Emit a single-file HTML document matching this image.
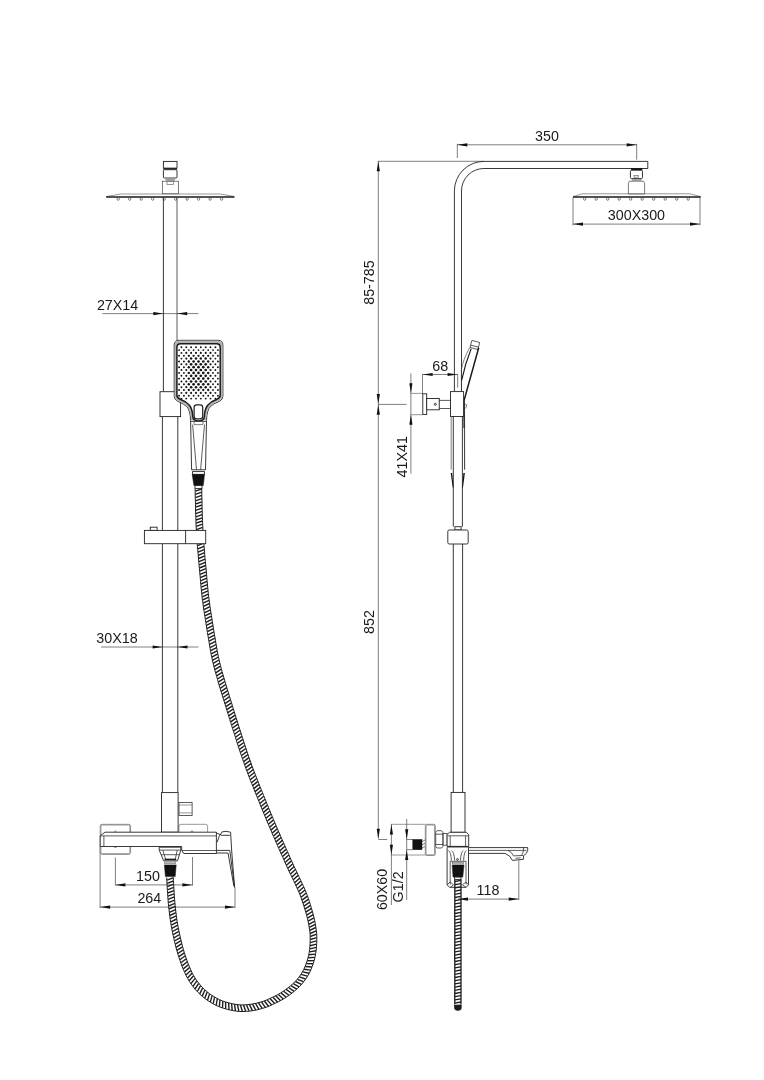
<!DOCTYPE html>
<html><head><meta charset="utf-8"><title>Shower column dimensions</title>
<style>
html,body{margin:0;padding:0;background:#fff}
svg{display:block;will-change:transform}
.k{fill:none;stroke:#222;stroke-width:.9}
.kw{fill:#fff;stroke:#222;stroke-width:.9}
.m{fill:none;stroke:#333;stroke-width:.8}
.mw{fill:#fff;stroke:#333;stroke-width:.8}
.t{fill:none;stroke:#3a3a3a;stroke-width:.65}
.g{fill:none;stroke:#6a6a6a;stroke-width:.7}
.gw{fill:#fff;stroke:#6a6a6a;stroke-width:.7}
.b{fill:#111;stroke:#111;stroke-width:.5}
.a{fill:#111;stroke:none}
.h{fill:none;stroke:#1a1a1a;stroke-width:1.5}
text{font-family:"Liberation Sans",Arial,sans-serif;font-size:14.3px;fill:#1a1a1a}
</style></head><body>
<svg width="764" height="1080" viewBox="0 0 764 1080">
<rect x="0" y="0" width="764" height="1080" fill="#fff"/>
<g id="front-view">
<line class="t" x1="102.3" y1="313.6" x2="198.4" y2="313.6"/>
<polygon class="a" points="163.3,313.6 153.3,312.0 153.3,315.2"/>
<polygon class="a" points="177.2,313.6 187.2,312.0 187.2,315.2"/>
<text x="96.9" y="310.2">27X14</text>
<line class="t" x1="101.0" y1="647.0" x2="198.4" y2="647.0"/>
<polygon class="a" points="162.6,647.0 152.6,645.4 152.6,648.6"/>
<polygon class="a" points="177.5,647.0 187.5,645.4 187.5,648.6"/>
<text x="96.3" y="643.3">30X18</text>
<rect class="kw" x="163.4" y="161.4" width="13.6" height="6.7"/>
<line class="h" x1="163.4" y1="168.9" x2="177.0" y2="168.9"/>
<rect class="kw" x="163.4" y="169.7" width="13.6" height="8.3" rx="1.0"/>
<rect class="" x="165.5" y="179.0" width="9.5" height="1.6" fill="#9a9a9a"/>
<rect class="" fill="#fff" stroke="#444" stroke-width=".7" x="162.3" y="181.2" width="16.2" height="12.6"/>
<rect class="g" x="167.0" y="181.2" width="6.3" height="3.4"/>
<path class="g" d="M106.2,196.6 L120.5,194 H220.7 L234.4,196.6"/>
<line class="h" x1="106.2" y1="196.9" x2="234.4" y2="196.9"/>
<path class="t" d="M117.2,197.6 V199.8 Q118.2,200.9 119.2,199.8 V197.6"/>
<path class="t" d="M128.7,197.6 V199.8 Q129.7,200.9 130.7,199.8 V197.6"/>
<path class="t" d="M140.2,197.6 V199.8 Q141.2,200.9 142.2,199.8 V197.6"/>
<path class="t" d="M151.7,197.6 V199.8 Q152.7,200.9 153.7,199.8 V197.6"/>
<path class="t" d="M163.2,197.6 V199.8 Q164.2,200.9 165.2,199.8 V197.6"/>
<path class="t" d="M174.7,197.6 V199.8 Q175.7,200.9 176.7,199.8 V197.6"/>
<path class="t" d="M186.1,197.6 V199.8 Q187.1,200.9 188.1,199.8 V197.6"/>
<path class="t" d="M197.6,197.6 V199.8 Q198.6,200.9 199.6,199.8 V197.6"/>
<path class="t" d="M209.1,197.6 V199.8 Q210.1,200.9 211.1,199.8 V197.6"/>
<path class="t" d="M220.6,197.6 V199.8 Q221.6,200.9 222.6,199.8 V197.6"/>
<line class="k" x1="163.4" y1="197.6" x2="163.4" y2="391.7"/>
<line class="m" x1="177.0" y1="197.6" x2="177.0" y2="340.4"/>
<line class="k" x1="162.4" y1="416.6" x2="162.4" y2="792.6"/>
<line class="k" x1="177.8" y1="416.6" x2="177.8" y2="792.6"/>
<rect class="kw" x="161.5" y="792.6" width="16.6" height="39.6"/>
<rect class="kw" x="160.0" y="391.7" width="20.6" height="24.9"/>
</g>
<g id="dims-front-low">
<line class="t" x1="115.4" y1="857.5" x2="115.4" y2="885.6"/>
<line class="t" x1="192.5" y1="857.0" x2="192.5" y2="885.6"/>
<line class="t" x1="115.4" y1="884.9" x2="192.5" y2="884.9"/>
<polygon class="a" points="115.4,884.9 125.4,883.3 125.4,886.5"/>
<polygon class="a" points="192.4,884.9 182.4,883.3 182.4,886.5"/>
<text x="136.0" y="881.4">150</text>
<line class="t" x1="100.1" y1="846.5" x2="100.1" y2="907.9"/>
<line class="t" x1="235.0" y1="887.4" x2="235.0" y2="907.9"/>
<line class="t" x1="100.1" y1="907.1" x2="235.0" y2="907.1"/>
<polygon class="a" points="100.1,907.1 110.1,905.5 110.1,908.7"/>
<polygon class="a" points="235.0,907.1 225.0,905.5 225.0,908.7"/>
<text x="137.4" y="903.3">264</text>
</g>
<g id="hose-front">
<path d="M195.1,488.6 L195.2,491.8 L195.2,495.0 L195.3,498.2 L195.4,501.4 L195.5,504.6 L195.5,507.8 L195.6,511.0 L195.7,514.2 L195.8,517.4 L195.9,520.6 L196.0,523.8 L196.2,527.0 L196.3,530.2 L196.5,533.5 L196.7,536.7 L196.9,539.9 L197.2,543.1 L197.4,546.3 L197.7,549.5 L198.0,552.7 L198.3,555.9 L198.5,559.1 L198.8,562.3 L199.1,565.5 L199.4,568.7 L199.7,571.8 L200.0,575.0 L200.3,578.2 L200.5,581.4 L200.8,584.6 L201.1,587.8 L201.5,591.0 L201.8,594.2 L202.1,597.4 L202.5,600.6 L203.0,603.8 L203.4,607.0 L203.9,610.2 L204.4,613.4 L204.9,616.5 L205.4,619.7 L205.9,622.9 L206.4,626.0 L206.9,629.2 L207.4,632.4 L207.9,635.5 L208.5,638.7 L209.0,641.8 L209.5,645.0 L210.1,648.2 L210.6,651.4 L211.2,654.5 L211.9,657.7 L212.5,660.9 L213.3,664.1 L214.1,667.2 L214.9,670.4 L215.8,673.5 L216.7,676.6 L217.6,679.6 L218.4,682.7 L219.3,685.8 L220.3,688.9 L221.2,692.0 L222.2,695.0 L223.1,698.1 L224.1,701.1 L225.0,704.2 L226.0,707.2 L226.9,710.3 L227.8,713.4 L228.8,716.4 L229.7,719.5 L230.7,722.5 L231.7,725.6 L232.6,728.7 L233.6,731.7 L234.6,734.8 L235.6,737.8 L236.5,740.9 L237.5,743.9 L238.5,747.0 L239.5,750.0 L240.5,753.1 L241.6,756.1 L242.6,759.1 L243.7,762.2 L244.7,765.2 L245.8,768.2 L247.0,771.3 L248.1,774.3 L249.3,777.3 L250.4,780.3 L251.6,783.3 L252.8,786.2 L254.0,789.2 L255.2,792.2 L256.4,795.2 L257.6,798.1 L258.8,801.1 L260.0,804.1 L261.2,807.0 L262.4,810.0 L263.6,813.0 L264.8,815.9 L266.1,818.9 L267.3,821.9 L268.6,824.8 L269.8,827.8 L271.1,830.7 L272.3,833.7 L273.6,836.6 L274.9,839.5 L276.2,842.5 L277.5,845.4 L278.7,848.4 L280.0,851.3 L281.3,854.2 L282.7,857.1 L284.0,860.1 L285.3,863.0 L286.6,865.9 L287.9,868.8 L289.3,871.8 L290.7,874.7 L292.1,877.5 L293.5,880.4 L294.8,883.3 L296.2,886.2 L297.5,889.1 L298.8,891.9 L300.0,894.8 L301.1,897.7 L302.1,900.7 L303.1,903.7 L304.1,906.7 L305.0,909.7 L305.9,912.7 L306.7,915.7 L307.5,918.8 L308.2,921.8 L308.8,924.9 L309.3,927.9 L309.8,931.0 L310.1,934.0 L310.2,937.0 L310.2,940.1 L310.1,943.2 L309.9,946.3 L309.6,949.4 L309.2,952.3 L308.6,955.3 L307.9,958.3 L307.0,961.2 L306.0,964.1 L304.9,966.9 L303.6,969.7 L302.2,972.3 L300.6,974.8 L298.9,977.2 L297.0,979.6 L295.0,981.8 L292.8,983.8 L290.5,985.8 L288.1,987.8 L285.6,989.6 L283.1,991.4 L280.5,993.0 L277.9,994.6 L275.1,996.0 L272.3,997.4 L269.4,998.7 L266.6,1000.0 L263.9,1001.1 L261.0,1002.0 L258.0,1002.8 L255.0,1003.5 L252.0,1004.1 L249.0,1004.5 L246.0,1004.8 L243.0,1004.9 L240.0,1004.9 L237.0,1004.6 L234.1,1004.1 L231.1,1003.5 L228.1,1002.7 L225.2,1001.9 L222.3,1000.9 L219.6,999.7 L216.9,998.3 L214.3,996.8 L211.7,995.2 L209.2,993.5 L206.9,991.6 L204.6,989.6 L202.4,987.4 L200.4,985.2 L198.5,982.9 L196.7,980.5 L195.0,977.9 L193.5,975.3 L192.0,972.6 L190.7,969.8 L189.5,967.0 L188.3,964.1 L187.2,961.2 L186.2,958.2 L185.2,955.2 L184.2,952.2 L183.3,949.2 L182.5,946.2 L181.7,943.1 L181.0,940.1 L180.2,937.0 L179.6,933.9 L178.9,930.8 L178.3,927.7 L177.7,924.6 L177.2,921.5 L176.7,918.4 L176.3,915.2 L175.9,912.1 L175.5,909.0 L175.2,905.8 L174.9,902.7 L174.6,899.5 L174.4,896.4 L174.2,893.2 L174.0,890.0 L173.8,886.8 L173.6,883.6 L173.4,880.4 L173.3,877.3 M201.7,488.4 L201.8,491.6 L201.8,494.8 L201.9,498.0 L202.0,501.2 L202.1,504.4 L202.1,507.6 L202.2,510.8 L202.3,514.0 L202.4,517.2 L202.5,520.4 L202.6,523.6 L202.8,526.7 L202.9,529.9 L203.1,533.1 L203.3,536.2 L203.5,539.4 L203.8,542.6 L204.0,545.8 L204.3,549.0 L204.6,552.1 L204.8,555.3 L205.1,558.5 L205.4,561.7 L205.7,564.9 L206.0,568.1 L206.3,571.2 L206.6,574.4 L206.8,577.6 L207.1,580.8 L207.4,584.0 L207.7,587.2 L208.0,590.3 L208.3,593.5 L208.7,596.6 L209.1,599.8 L209.5,602.9 L209.9,606.1 L210.4,609.2 L210.9,612.4 L211.4,615.5 L211.9,618.7 L212.4,621.8 L212.9,625.0 L213.4,628.1 L213.9,631.3 L214.4,634.5 L215.0,637.6 L215.5,640.8 L216.0,643.9 L216.6,647.0 L217.1,650.2 L217.7,653.3 L218.3,656.4 L219.0,659.4 L219.7,662.5 L220.5,665.6 L221.3,668.6 L222.1,671.7 L223.0,674.7 L223.9,677.8 L224.8,680.9 L225.7,683.9 L226.6,687.0 L227.5,690.0 L228.5,693.0 L229.4,696.1 L230.4,699.2 L231.3,702.2 L232.3,705.3 L233.2,708.4 L234.2,711.4 L235.1,714.5 L236.0,717.5 L237.0,720.6 L238.0,723.6 L238.9,726.7 L239.9,729.7 L240.9,732.7 L241.8,735.8 L242.8,738.8 L243.8,741.9 L244.8,744.9 L245.8,747.9 L246.8,751.0 L247.8,754.0 L248.8,757.0 L249.9,760.0 L251.0,763.0 L252.0,766.0 L253.1,769.0 L254.3,771.9 L255.4,774.9 L256.6,777.9 L257.7,780.8 L258.9,783.8 L260.1,786.8 L261.3,789.7 L262.5,792.7 L263.7,795.7 L264.9,798.6 L266.1,801.6 L267.3,804.5 L268.5,807.5 L269.7,810.5 L270.9,813.4 L272.2,816.3 L273.4,819.3 L274.6,822.2 L275.9,825.2 L277.1,828.1 L278.4,831.1 L279.7,834.0 L280.9,836.9 L282.2,839.8 L283.5,842.8 L284.8,845.7 L286.1,848.6 L287.4,851.5 L288.7,854.4 L290.0,857.4 L291.3,860.3 L292.6,863.2 L293.9,866.1 L295.3,868.9 L296.7,871.8 L298.0,874.7 L299.4,877.6 L300.8,880.5 L302.1,883.4 L303.5,886.3 L304.8,889.3 L306.1,892.4 L307.3,895.4 L308.4,898.5 L309.4,901.6 L310.4,904.7 L311.3,907.8 L312.2,910.9 L313.1,914.1 L313.9,917.2 L314.6,920.4 L315.3,923.6 L315.8,926.9 L316.3,930.2 L316.7,933.5 L316.8,936.9 L316.8,940.2 L316.7,943.5 L316.5,946.8 L316.2,950.1 L315.7,953.5 L315.1,956.7 L314.3,960.0 L313.3,963.2 L312.2,966.4 L311.0,969.5 L309.6,972.6 L307.9,975.6 L306.1,978.5 L304.1,981.2 L302.0,983.9 L299.7,986.4 L297.2,988.7 L294.7,990.9 L292.1,993.0 L289.5,995.0 L286.7,996.9 L283.9,998.7 L281.0,1000.4 L278.1,1001.9 L275.2,1003.3 L272.2,1004.7 L269.2,1006.1 L266.0,1007.3 L262.8,1008.3 L259.6,1009.2 L256.4,1010.0 L253.1,1010.6 L249.8,1011.1 L246.4,1011.4 L243.0,1011.5 L239.6,1011.5 L236.2,1011.1 L232.9,1010.6 L229.6,1009.9 L226.4,1009.1 L223.1,1008.1 L219.9,1007.0 L216.8,1005.7 L213.8,1004.2 L210.9,1002.5 L208.0,1000.7 L205.3,998.7 L202.6,996.6 L200.1,994.4 L197.7,992.0 L195.4,989.6 L193.3,986.9 L191.3,984.2 L189.4,981.4 L187.7,978.5 L186.1,975.6 L184.7,972.6 L183.4,969.5 L182.1,966.5 L181.0,963.4 L179.9,960.3 L178.9,957.3 L177.9,954.2 L177.0,951.0 L176.1,947.9 L175.3,944.7 L174.5,941.6 L173.8,938.5 L173.1,935.3 L172.4,932.1 L171.8,928.9 L171.2,925.7 L170.7,922.5 L170.2,919.3 L169.8,916.1 L169.4,912.9 L169.0,909.7 L168.6,906.5 L168.3,903.3 L168.1,900.0 L167.8,896.8 L167.6,893.6 L167.4,890.4 L167.2,887.2 L167.0,884.0 L166.8,880.8 L166.7,877.6" fill="none" stroke="#1e1e1e" stroke-width="1.00"/>
<path d="M195.3,491.2 L201.6,489.0 M195.3,494.4 L201.7,492.2 M195.4,497.6 L201.8,495.4 M195.5,500.8 L201.8,498.6 M195.5,504.0 L201.9,501.8 M195.6,507.2 L202.0,505.0 M195.7,510.4 L202.1,508.2 M195.8,513.6 L202.1,511.4 M195.9,516.8 L202.2,514.6 M196.0,520.0 L202.3,517.8 M196.1,523.2 L202.4,521.0 M196.2,526.4 L202.6,524.2 M196.4,529.6 L202.7,527.3 M196.5,532.8 L202.8,530.5 M196.7,536.1 L203.0,533.7 M197.0,539.3 L203.2,536.8 M197.2,542.5 L203.5,540.0 M197.5,545.7 L203.7,543.2 M197.8,548.9 L204.0,546.4 M198.0,552.1 L204.2,549.6 M198.3,555.3 L204.5,552.7 M198.6,558.5 L204.8,555.9 M198.9,561.7 L205.1,559.1 M199.2,564.9 L205.3,562.3 M199.4,568.0 L205.6,565.5 M199.7,571.2 L205.9,568.7 M200.0,574.4 L206.2,571.9 M200.3,577.6 L206.5,575.0 M200.6,580.8 L206.8,578.2 M200.9,584.0 L207.1,581.4 M201.2,587.2 L207.4,584.6 M201.5,590.4 L207.7,587.8 M201.8,593.6 L208.0,590.9 M202.2,596.8 L208.3,594.1 M202.6,600.0 L208.7,597.2 M203.0,603.2 L209.1,600.4 M203.4,606.4 L209.5,603.5 M203.9,609.6 L209.9,606.7 M204.4,612.8 L210.4,609.8 M204.9,615.9 L210.9,613.0 M205.4,619.1 L211.4,616.1 M205.9,622.3 L211.9,619.3 M206.4,625.4 L212.4,622.4 M206.9,628.6 L212.9,625.6 M207.4,631.7 L213.4,628.7 M207.9,634.9 L213.9,631.9 M208.5,638.1 L214.4,635.1 M209.0,641.2 L215.0,638.2 M209.5,644.4 L215.5,641.4 M210.1,647.6 L216.0,644.5 M210.6,650.7 L216.6,647.6 M211.2,653.9 L217.1,650.8 M211.8,657.1 L217.7,653.9 M212.5,660.3 L218.3,657.0 M213.2,663.4 L219.0,660.0 M214.0,666.6 L219.7,663.1 M214.8,669.7 L220.5,666.1 M215.7,672.8 L221.3,669.2 M216.6,675.9 L222.2,672.3 M217.5,679.0 L223.1,675.3 M218.4,682.1 L224.0,678.4 M219.3,685.2 L224.8,681.5 M220.2,688.3 L225.7,684.5 M221.1,691.4 L226.7,687.6 M222.1,694.4 L227.6,690.6 M223.1,697.5 L228.6,693.7 M224.0,700.5 L229.5,696.7 M224.9,703.6 L230.5,699.8 M225.9,706.6 L231.4,702.8 M226.8,709.7 L232.4,705.9 M227.8,712.7 L233.3,709.0 M228.7,715.8 L234.2,712.0 M229.7,718.9 L235.2,715.1 M230.6,721.9 L236.1,718.1 M231.6,725.0 L237.1,721.2 M232.5,728.0 L238.0,724.2 M233.5,731.1 L239.0,727.3 M234.5,734.2 L240.0,730.3 M235.5,737.2 L241.0,733.3 M236.5,740.2 L241.9,736.4 M237.4,743.3 L242.9,739.4 M238.4,746.3 L243.9,742.5 M239.4,749.4 L244.9,745.5 M240.4,752.4 L245.9,748.5 M241.5,755.5 L246.9,751.6 M242.5,758.5 L247.9,754.6 M243.6,761.6 L248.9,757.6 M244.6,764.6 L250.0,760.6 M245.7,767.6 L251.1,763.6 M246.8,770.7 L252.2,766.6 M248.0,773.7 L253.3,769.5 M249.1,776.7 L254.4,772.5 M250.3,779.7 L255.5,775.5 M251.5,782.7 L256.7,778.5 M252.6,785.6 L257.9,781.4 M253.8,788.6 L259.0,784.4 M255.0,791.6 L260.2,787.4 M256.2,794.6 L261.4,790.3 M257.4,797.5 L262.6,793.3 M258.6,800.5 L263.8,796.3 M259.8,803.5 L265.0,799.2 M261.0,806.5 L266.2,802.2 M262.3,809.4 L267.4,805.1 M263.5,812.4 L268.6,808.1 M264.7,815.3 L269.9,811.0 M265.9,818.3 L271.1,814.0 M267.2,821.3 L272.3,816.9 M268.4,824.2 L273.5,819.9 M269.7,827.2 L274.8,822.8 M270.9,830.1 L276.0,825.8 M272.2,833.1 L277.3,828.7 M273.5,836.0 L278.5,831.6 M274.7,839.0 L279.8,834.6 M276.0,841.9 L281.1,837.5 M277.3,844.8 L282.4,840.4 M278.6,847.8 L283.6,843.4 M279.9,850.7 L284.9,846.3 M281.2,853.6 L286.2,849.2 M282.5,856.5 L287.5,852.1 M283.8,859.5 L288.8,855.0 M285.1,862.4 L290.1,857.9 M286.4,865.3 L291.4,860.9 M287.8,868.2 L292.8,863.8 M289.1,871.2 L294.1,866.6 M290.5,874.1 L295.4,869.5 M291.9,877.0 L296.8,872.4 M293.3,879.8 L298.2,875.3 M294.6,882.7 L299.6,878.2 M296.0,885.6 L300.9,881.1 M297.4,888.5 L302.3,884.0 M298.7,891.4 L303.7,886.9 M299.9,894.3 L305.0,890.0 M301.0,897.2 L306.2,893.0 M302.0,900.1 L307.4,896.1 M303.0,903.1 L308.5,899.1 M304.0,906.1 L309.5,902.2 M304.9,909.1 L310.5,905.3 M305.8,912.1 L311.4,908.4 M306.7,915.2 L312.3,911.5 M307.5,918.2 L313.2,914.7 M308.1,921.2 L314.0,917.9 M308.8,924.3 L314.7,921.1 M309.3,927.4 L315.3,924.3 M309.8,930.4 L315.8,927.5 M310.1,933.5 L316.3,930.8 M310.3,936.5 L316.6,934.2 M310.3,939.5 L316.7,937.6 M310.2,942.6 L316.6,940.9 M310.0,945.8 L316.5,944.1 M309.8,948.9 L316.3,947.4 M309.4,951.9 L316.0,950.8 M308.8,954.8 L315.5,954.1 M308.1,957.8 L314.8,957.4 M307.3,960.7 L314.0,960.6 M306.3,963.6 L313.0,963.8 M305.2,966.5 L311.9,967.0 M304.0,969.3 L310.6,970.1 M302.6,971.9 L309.2,973.2 M301.0,974.4 L307.5,976.2 M299.3,976.9 L305.6,979.0 M297.4,979.3 L303.6,981.7 M295.4,981.5 L301.5,984.3 M293.3,983.6 L299.1,986.8 M291.0,985.6 L296.7,989.1 M288.6,987.5 L294.1,991.3 M286.1,989.4 L291.6,993.3 M283.6,991.2 L288.9,995.3 M281.0,992.9 L286.1,997.2 M278.4,994.4 L283.3,999.0 M275.7,995.8 L280.4,1000.6 M272.9,997.2 L277.5,1002.1 M270.0,998.6 L274.6,1003.5 M267.1,999.9 L271.6,1004.9 M264.4,1001.0 L268.5,1006.3 M261.5,1001.9 L265.3,1007.4 M258.5,1002.8 L262.2,1008.4 M255.5,1003.5 L259.0,1009.3 M252.5,1004.1 L255.7,1010.0 M249.5,1004.6 L252.4,1010.6 M246.5,1004.9 L249.1,1011.1 M243.5,1005.0 L245.7,1011.3 M240.5,1005.0 L242.3,1011.4 M237.5,1004.8 L238.9,1011.3 M234.5,1004.3 L235.5,1010.9 M231.6,1003.7 L232.2,1010.4 M228.6,1003.0 L229.0,1009.7 M225.6,1002.1 L225.7,1008.8 M222.8,1001.1 L222.5,1007.8 M220.0,1000.0 L219.3,1006.7 M217.3,998.7 L216.2,1005.3 M214.6,997.2 L213.2,1003.7 M212.1,995.6 L210.3,1002.1 M209.6,993.9 L207.5,1000.2 M207.2,992.0 L204.8,998.2 M204.9,990.0 L202.2,996.1 M202.7,987.9 L199.7,993.9 M200.6,985.7 L197.3,991.5 M198.7,983.4 L195.0,989.0 M196.9,980.9 L192.9,986.3 M195.2,978.4 L190.9,983.6 M193.6,975.8 L189.1,980.8 M192.2,973.1 L187.5,977.9 M190.8,970.4 L185.9,974.9 M189.6,967.5 L184.5,971.9 M188.4,964.7 L183.2,968.9 M187.3,961.8 L182.0,965.9 M186.3,958.8 L180.9,962.8 M185.3,955.8 L179.8,959.7 M184.3,952.8 L178.8,956.6 M183.4,949.8 L177.8,953.5 M182.5,946.8 L176.9,950.4 M181.8,943.7 L176.1,947.3 M181.0,940.7 L175.3,944.1 M180.3,937.6 L174.5,941.0 M179.6,934.5 L173.8,937.8 M178.9,931.4 L173.1,934.7 M178.3,928.3 L172.4,931.5 M177.7,925.2 L171.8,928.3 M177.2,922.1 L171.2,925.1 M176.7,919.0 L170.7,921.9 M176.3,915.8 L170.2,918.7 M175.9,912.7 L169.8,915.5 M175.5,909.6 L169.4,912.3 M175.2,906.4 L169.0,909.1 M174.9,903.3 L168.7,905.9 M174.6,900.1 L168.4,902.6 M174.3,896.9 L168.1,899.4 M174.1,893.8 L167.9,896.2 M173.9,890.6 L167.7,893.0 M173.7,887.4 L167.5,889.8 M173.5,884.2 L167.3,886.6 M173.4,881.0 L167.1,883.4 M173.2,877.8 L166.9,880.2" fill="none" stroke="#1e1e1e" stroke-width="1.40"/>
</g>
<g id="front-parts">
<rect class="kw" x="150.3" y="527.2" width="6.8" height="3.2"/>
<rect class="kw" x="144.4" y="530.4" width="61.3" height="13.3"/>
<line class="k" x1="185.6" y1="530.4" x2="185.6" y2="543.7"/>
<path class="kw" d="M179.2,340.3 H217.9 Q222.9,340.3 222.9,345.3 V396.3 Q222.9,399.6 219.4,401.3 Q213.5,403.6 210.3,406.6 Q206.8,410.2 206.5,420.4 L205.5,469.8 H191.6 L190.6,420.4 Q190.3,410.2 186.8,406.6 Q183.6,403.6 177.7,401.3 Q174.2,399.6 174.2,396.3 V345.3 Q174.2,340.3 179.2,340.3 Z"/>
<path class="" fill="#b4b4b4" fill-rule="evenodd" stroke="none" d="M179.2,340.8 H217.9 Q222.4,340.8 222.4,345.3 V396.3 Q222.4,399.3 219.2,400.8 Q213.2,403.2 210,406.2 Q206.3,410 206,420.4 H191.1 Q190.8,410 187.1,406.2 Q183.9,403.2 177.9,400.8 Q174.7,399.3 174.7,396.3 V345.3 Q174.7,340.8 179.2,340.8 Z M180.6,343.7 Q176.9,343.7 176.9,347.4 V395.6 Q176.9,397.8 180.2,399.3 Q186.2,401.6 189.4,405.2 Q192.4,408.8 192.8,416.7 Q193,420.9 198.55,420.9 Q204.1,420.9 204.3,416.7 Q204.7,408.8 207.7,405.2 Q210.9,401.6 216.9,399.3 Q220.2,397.8 220.2,395.6 V347.4 Q220.2,343.7 216.5,343.7 Z"/>
<path class="" fill="#fff" stroke="#1c1c1c" stroke-width="1.5" d="M180.6,343.7 H216.5 Q220.2,343.7 220.2,347.4 V395.6 Q220.2,397.8 216.9,399.3 Q210.9,401.6 207.7,405.2 Q204.7,408.8 204.3,416.7 Q204.1,420.9 198.55,420.9 Q193,420.9 192.8,416.7 Q192.4,408.8 189.4,405.2 Q186.2,401.6 180.2,399.3 Q176.9,397.8 176.9,395.6 V347.4 Q176.9,343.7 180.6,343.7 Z"/>
<rect class="" fill="#fff" stroke="#1c1c1c" stroke-width="1.2" x="194.1" y="404.9" width="8.6" height="13.9" rx="2.6"/>
<line class="m" x1="190.6" y1="421.5" x2="206.5" y2="421.5"/>
<path class="t" d="M194,421.5 V424.6 H203 V421.5"/>
<path class="m" d="M192.6,424.6 L196.5,469.8 M204.5,424.6 L200.6,469.8"/>
<g fill="#151515"><circle cx="181.4" cy="347.2" r="0.95"/><circle cx="186.3" cy="347.2" r="0.95"/><circle cx="191.1" cy="347.2" r="0.95"/><circle cx="196.0" cy="347.2" r="0.95"/><circle cx="200.8" cy="347.2" r="0.95"/><circle cx="205.7" cy="347.2" r="0.95"/><circle cx="210.5" cy="347.2" r="0.95"/><circle cx="215.4" cy="347.2" r="0.95"/><circle cx="179.1" cy="350.1" r="0.95"/><circle cx="183.9" cy="350.1" r="0.95"/><circle cx="188.8" cy="350.1" r="0.95"/><circle cx="193.6" cy="350.1" r="0.95"/><circle cx="198.5" cy="350.1" r="0.95"/><circle cx="203.3" cy="350.1" r="0.95"/><circle cx="208.2" cy="350.1" r="0.95"/><circle cx="213.0" cy="350.1" r="0.95"/><circle cx="217.9" cy="350.1" r="0.95"/><circle cx="181.4" cy="352.9" r="0.95"/><circle cx="186.3" cy="352.9" r="1.05"/><circle cx="191.1" cy="352.9" r="1.05"/><circle cx="196.0" cy="352.9" r="1.05"/><circle cx="200.8" cy="352.9" r="1.05"/><circle cx="205.7" cy="352.9" r="1.05"/><circle cx="210.5" cy="352.9" r="1.05"/><circle cx="215.4" cy="352.9" r="0.95"/><circle cx="179.1" cy="355.8" r="0.95"/><circle cx="183.9" cy="355.8" r="0.95"/><circle cx="188.8" cy="355.8" r="1.16"/><circle cx="193.6" cy="355.8" r="1.16"/><circle cx="198.5" cy="355.8" r="1.16"/><circle cx="203.3" cy="355.8" r="1.16"/><circle cx="208.2" cy="355.8" r="1.16"/><circle cx="213.0" cy="355.8" r="0.95"/><circle cx="217.9" cy="355.8" r="0.95"/><circle cx="181.4" cy="358.6" r="0.95"/><circle cx="186.3" cy="358.6" r="1.08"/><circle cx="191.1" cy="358.6" r="1.27"/><circle cx="196.0" cy="358.6" r="1.27"/><circle cx="200.8" cy="358.6" r="1.27"/><circle cx="205.7" cy="358.6" r="1.27"/><circle cx="210.5" cy="358.6" r="1.09"/><circle cx="215.4" cy="358.6" r="0.95"/><circle cx="179.1" cy="361.5" r="0.95"/><circle cx="183.9" cy="361.5" r="0.95"/><circle cx="188.8" cy="361.5" r="1.22"/><circle cx="193.6" cy="361.5" r="1.35"/><circle cx="198.5" cy="361.5" r="1.35"/><circle cx="203.3" cy="361.5" r="1.35"/><circle cx="208.2" cy="361.5" r="1.23"/><circle cx="213.0" cy="361.5" r="0.95"/><circle cx="217.9" cy="361.5" r="0.95"/><circle cx="181.4" cy="364.3" r="0.95"/><circle cx="186.3" cy="364.3" r="1.08"/><circle cx="191.1" cy="364.3" r="1.35"/><circle cx="196.0" cy="364.3" r="1.35"/><circle cx="200.8" cy="364.3" r="1.35"/><circle cx="205.7" cy="364.3" r="1.35"/><circle cx="210.5" cy="364.3" r="1.09"/><circle cx="215.4" cy="364.3" r="0.95"/><circle cx="179.1" cy="367.2" r="0.95"/><circle cx="183.9" cy="367.2" r="0.95"/><circle cx="188.8" cy="367.2" r="1.22"/><circle cx="193.6" cy="367.2" r="1.35"/><circle cx="198.5" cy="367.2" r="1.35"/><circle cx="203.3" cy="367.2" r="1.35"/><circle cx="208.2" cy="367.2" r="1.23"/><circle cx="213.0" cy="367.2" r="0.95"/><circle cx="217.9" cy="367.2" r="0.95"/><circle cx="181.4" cy="370.0" r="0.95"/><circle cx="186.3" cy="370.0" r="1.08"/><circle cx="191.1" cy="370.0" r="1.35"/><circle cx="196.0" cy="370.0" r="1.35"/><circle cx="200.8" cy="370.0" r="1.35"/><circle cx="205.7" cy="370.0" r="1.35"/><circle cx="210.5" cy="370.0" r="1.09"/><circle cx="215.4" cy="370.0" r="0.95"/><circle cx="179.1" cy="372.9" r="0.95"/><circle cx="183.9" cy="372.9" r="0.95"/><circle cx="188.8" cy="372.9" r="1.22"/><circle cx="193.6" cy="372.9" r="1.35"/><circle cx="198.5" cy="372.9" r="1.35"/><circle cx="203.3" cy="372.9" r="1.35"/><circle cx="208.2" cy="372.9" r="1.23"/><circle cx="213.0" cy="372.9" r="0.95"/><circle cx="217.9" cy="372.9" r="0.95"/><circle cx="181.4" cy="375.8" r="0.95"/><circle cx="186.3" cy="375.8" r="1.08"/><circle cx="191.1" cy="375.8" r="1.35"/><circle cx="196.0" cy="375.8" r="1.35"/><circle cx="200.8" cy="375.8" r="1.35"/><circle cx="205.7" cy="375.8" r="1.35"/><circle cx="210.5" cy="375.8" r="1.09"/><circle cx="215.4" cy="375.8" r="0.95"/><circle cx="179.1" cy="378.6" r="0.95"/><circle cx="183.9" cy="378.6" r="0.95"/><circle cx="188.8" cy="378.6" r="1.22"/><circle cx="193.6" cy="378.6" r="1.35"/><circle cx="198.5" cy="378.6" r="1.35"/><circle cx="203.3" cy="378.6" r="1.35"/><circle cx="208.2" cy="378.6" r="1.23"/><circle cx="213.0" cy="378.6" r="0.95"/><circle cx="217.9" cy="378.6" r="0.95"/><circle cx="181.4" cy="381.5" r="0.95"/><circle cx="186.3" cy="381.5" r="1.08"/><circle cx="191.1" cy="381.5" r="1.35"/><circle cx="196.0" cy="381.5" r="1.35"/><circle cx="200.8" cy="381.5" r="1.35"/><circle cx="205.7" cy="381.5" r="1.35"/><circle cx="210.5" cy="381.5" r="1.09"/><circle cx="215.4" cy="381.5" r="0.95"/><circle cx="179.1" cy="384.3" r="0.95"/><circle cx="183.9" cy="384.3" r="0.95"/><circle cx="188.8" cy="384.3" r="1.22"/><circle cx="193.6" cy="384.3" r="1.35"/><circle cx="198.5" cy="384.3" r="1.35"/><circle cx="203.3" cy="384.3" r="1.35"/><circle cx="208.2" cy="384.3" r="1.23"/><circle cx="213.0" cy="384.3" r="0.95"/><circle cx="217.9" cy="384.3" r="0.95"/><circle cx="181.4" cy="387.2" r="0.95"/><circle cx="186.3" cy="387.2" r="1.08"/><circle cx="191.1" cy="387.2" r="1.27"/><circle cx="196.0" cy="387.2" r="1.27"/><circle cx="200.8" cy="387.2" r="1.27"/><circle cx="205.7" cy="387.2" r="1.27"/><circle cx="210.5" cy="387.2" r="1.09"/><circle cx="215.4" cy="387.2" r="0.95"/><circle cx="179.1" cy="390.0" r="0.95"/><circle cx="183.9" cy="390.0" r="0.95"/><circle cx="188.8" cy="390.0" r="1.16"/><circle cx="193.6" cy="390.0" r="1.16"/><circle cx="198.5" cy="390.0" r="1.16"/><circle cx="203.3" cy="390.0" r="1.16"/><circle cx="208.2" cy="390.0" r="1.16"/><circle cx="213.0" cy="390.0" r="0.95"/><circle cx="217.9" cy="390.0" r="0.95"/><circle cx="181.4" cy="392.9" r="0.95"/><circle cx="186.3" cy="392.9" r="1.05"/><circle cx="191.1" cy="392.9" r="1.05"/><circle cx="196.0" cy="392.9" r="1.05"/><circle cx="200.8" cy="392.9" r="1.05"/><circle cx="205.7" cy="392.9" r="1.05"/><circle cx="210.5" cy="392.9" r="1.05"/><circle cx="215.4" cy="392.9" r="0.95"/><circle cx="179.1" cy="395.8" r="0.95"/><circle cx="183.9" cy="395.8" r="0.95"/><circle cx="188.8" cy="395.8" r="0.95"/><circle cx="193.6" cy="395.8" r="0.95"/><circle cx="198.5" cy="395.8" r="0.95"/><circle cx="203.3" cy="395.8" r="0.95"/><circle cx="208.2" cy="395.8" r="0.95"/><circle cx="213.0" cy="395.8" r="0.95"/><circle cx="217.9" cy="395.8" r="0.95"/><circle cx="181.4" cy="398.6" r="0.95"/><circle cx="186.3" cy="398.6" r="0.95"/><circle cx="191.1" cy="398.6" r="0.95"/><circle cx="196.0" cy="398.6" r="0.95"/><circle cx="200.8" cy="398.6" r="0.95"/><circle cx="205.7" cy="398.6" r="0.95"/><circle cx="210.5" cy="398.6" r="0.95"/><circle cx="215.4" cy="398.6" r="0.95"/></g>
<rect class="kw" x="192.6" y="471.6" width="11.8" height="2.8"/>
<polygon class="b" points="192.2,474.4 204.5,474.4 203.3,485.5 193.9,485.5"/>
<rect class="kw" x="195.0" y="485.5" width="7.0" height="2.9"/>
<rect class="gw" x="100.2" y="824.3" width="30.4" height="30.1" rx="2.0"/>
<rect class="g" x="100.9" y="825.0" width="29.0" height="28.7" rx="1.6"/>
<rect class="gw" x="179.0" y="824.3" width="28.6" height="15.7" rx="2.0"/>
<rect class="mw" x="179.0" y="802.4" width="13.1" height="13.1"/>
<line class="g" x1="179.0" y1="805.0" x2="192.1" y2="805.0"/>
<line class="g" x1="179.0" y1="812.9" x2="192.1" y2="812.9"/>
<path class="kw" d="M100.2,835.8 L105,832.2 H216.4 V853.5 H183.7 L181.7,850.1 V846.5 H100.2 Z"/>
<line class="m" x1="100.2" y1="835.9" x2="216.4" y2="835.9"/>
<line class="m" x1="103.9" y1="835.9" x2="103.9" y2="846.5"/>
<line class="m" x1="182.0" y1="850.5" x2="216.4" y2="850.5"/>
<path class="t" d="M114.2,832 L115.4,831 L116.6,832 M114.2,846.8 L115.4,848 L116.6,846.8"/>
<path class="t" d="M190.5,832 L192,830.8 L193.5,832"/>
<path class="k" d="M217.2,842.2 Q218.6,836 222,831.9 L226,831.3 L230.6,832.2 L231.7,851 L234.6,887.4 L229.8,850.4 H216.4 M216.4,853 H228 L233.9,886.2 M221.3,835.3 H229.9 M216.4,833 L221.3,835"/>
<path class="kw" d="M159.2,847.2 H180.8 V850.1 L177.5,860.9 H163.7 L159.2,850.1 Z"/>
<path class="m" d="M159.2,850.1 H180.8 M161.2,854.7 H179 M162.8,850.1 L166,860.5 M177.2,850.1 L175,860.5"/>
<line class="h" x1="164.6" y1="859.4" x2="176.2" y2="859.4"/>
<rect class="g" x="164.7" y="862.1" width="10.8" height="1.6"/>
<polygon class="b" points="164.4,864.9 176.2,864.9 175.2,876.6 165.4,876.6"/>
</g>
<g id="side-view">
<line class="t" x1="378.3" y1="161.3" x2="378.3" y2="838.5"/>
<line class="t" x1="377.7" y1="161.3" x2="484.0" y2="161.3"/>
<polygon class="a" points="378.3,161.3 376.7,171.3 379.9,171.3"/>
<polygon class="a" points="378.3,404.1 376.7,394.1 379.9,394.1"/>
<polygon class="a" points="378.3,404.7 376.7,414.7 379.9,414.7"/>
<line class="t" x1="378.3" y1="404.4" x2="406.6" y2="404.4"/>
<polygon class="a" points="378.3,838.8 376.7,828.8 379.9,828.8"/>
<line class="t" x1="378.3" y1="839.5" x2="387.2" y2="839.5"/>
<text transform="translate(374.3 304.8) rotate(-90)">85-785</text>
<text transform="translate(374.3 634.0) rotate(-90)">852</text>
<line class="t" x1="457.3" y1="143.8" x2="457.3" y2="158.0"/>
<line class="t" x1="636.7" y1="143.8" x2="636.7" y2="159.7"/>
<line class="t" x1="457.3" y1="144.8" x2="636.7" y2="144.8"/>
<polygon class="a" points="457.3,144.8 467.3,143.2 467.3,146.4"/>
<polygon class="a" points="636.7,144.8 626.7,143.2 626.7,146.4"/>
<text x="535.0" y="141.3">350</text>
<path class="k" d="M454.4,391.6 V190.9 A29.5,29.5 0 0 1 483.9,161.4 H647.8 V168.5 H483.9 A22.4,22.4 0 0 0 461.5,190.9 V391.6"/>
<rect class="b" x="631.3" y="168.5" width="10.7" height="1.7"/>
<rect class="kw" x="630.4" y="170.2" width="12.1" height="8.4" rx="1.2"/>
<rect class="g" x="634.0" y="175.6" width="4.4" height="1.6"/>
<rect class="" x="631.8" y="179.1" width="9.7" height="1.6" fill="#9a9a9a"/>
<path class="" fill="#fff" stroke="#444" stroke-width=".7" d="M629.4,181.2 H643.6 L644.6,183.2 V194 H628.4 V183.2 Z"/>
<path class="g" d="M573,196.6 L582,193.8 H689.8 L700.7,196.6"/>
<line class="h" x1="573.0" y1="196.9" x2="700.7" y2="196.9"/>
<path class="t" d="M583.7,197.6 V199.8 Q584.7,200.9 585.7,199.8 V197.6"/>
<path class="t" d="M595.2,197.6 V199.8 Q596.2,200.9 597.2,199.8 V197.6"/>
<path class="t" d="M606.7,197.6 V199.8 Q607.7,200.9 608.7,199.8 V197.6"/>
<path class="t" d="M618.2,197.6 V199.8 Q619.2,200.9 620.2,199.8 V197.6"/>
<path class="t" d="M629.7,197.6 V199.8 Q630.7,200.9 631.7,199.8 V197.6"/>
<path class="t" d="M641.2,197.6 V199.8 Q642.2,200.9 643.2,199.8 V197.6"/>
<path class="t" d="M652.7,197.6 V199.8 Q653.7,200.9 654.7,199.8 V197.6"/>
<path class="t" d="M664.2,197.6 V199.8 Q665.2,200.9 666.2,199.8 V197.6"/>
<path class="t" d="M675.7,197.6 V199.8 Q676.7,200.9 677.7,199.8 V197.6"/>
<path class="t" d="M687.2,197.6 V199.8 Q688.2,200.9 689.2,199.8 V197.6"/>
<line class="t" x1="573.0" y1="197.5" x2="573.0" y2="225.4"/>
<line class="t" x1="700.0" y1="197.5" x2="700.0" y2="225.4"/>
<line class="t" x1="573.0" y1="224.1" x2="700.0" y2="224.1"/>
<polygon class="a" points="573.0,224.1 583.0,222.5 583.0,225.7"/>
<polygon class="a" points="700.0,224.1 690.0,222.5 690.0,225.7"/>
<text x="607.8" y="220.4">300X300</text>
<line class="t" x1="422.5" y1="373.8" x2="422.5" y2="393.8"/>
<line class="t" x1="457.7" y1="373.8" x2="457.7" y2="387.7"/>
<line class="t" x1="422.5" y1="374.5" x2="457.7" y2="374.5"/>
<polygon class="a" points="422.6,374.5 432.6,372.9 432.6,376.1"/>
<polygon class="a" points="457.6,374.5 447.6,372.9 447.6,376.1"/>
<text x="432.2" y="371.1">68</text>
<line class="t" x1="410.9" y1="373.5" x2="410.9" y2="473.7"/>
<polygon class="a" points="410.9,393.3 409.3,383.3 412.5,383.3"/>
<polygon class="a" points="410.9,414.7 409.3,424.7 412.5,424.7"/>
<line class="g" x1="410.7" y1="393.4" x2="423.0" y2="393.4"/>
<line class="g" x1="410.7" y1="414.7" x2="423.0" y2="414.7"/>
<text transform="translate(407.2 477.4) rotate(-90)">41X41</text>
<rect class="kw" x="422.8" y="393.8" width="3.9" height="20.7"/>
<rect class="kw" x="426.7" y="398.5" width="12.6" height="11.3"/>
<rect class="mw" x="439.3" y="400.3" width="11.3" height="8.2"/>
<circle class="k" cx="435.3" cy="404.3" r="1"/>
<path class="m" d="M471.9,340.4 L479.7,342.5 L477.9,349.6 L470,347.4 Z"/>
<line class="m" x1="470.9" y1="345.2" x2="478.8" y2="347.2"/>
<path class="t" d="M469.6,347.6 Q463,360 461.4,369.5 V391.6"/>
<path class="" fill="none" stroke="#1c1c1c" stroke-width="1.2" d="M471.2,348.6 Q465,364 461.6,380.5"/>
<path class="h" d="M478.7,347.8 L464.1,400.4 L464.2,428"/>
<line class="m" x1="464.4" y1="428.0" x2="464.6" y2="469.6"/>
<path class="t" d="M464.1,403.8 L466.8,404.9 L465.6,408.5"/>
<rect class="kw" x="450.5" y="391.6" width="13.1" height="24.9"/>
<line class="t" x1="451.2" y1="416.5" x2="451.2" y2="469.6"/>
<line class="k" x1="453.3" y1="416.5" x2="453.3" y2="526.7"/>
<line class="k" x1="462.4" y1="416.5" x2="462.4" y2="526.7"/>
<line class="t" x1="464.6" y1="416.5" x2="464.6" y2="469.6"/>
<polygon class="a" points="450.7,473 452.2,473 453.6,487.6 452.7,487.6"/>
<polygon class="a" points="464.9,473 463.4,473 462.1,487.6 463,487.6"/>
<rect class="kw" x="454.9" y="526.7" width="6.2" height="3.3"/>
<rect class="kw" x="447.8" y="530.0" width="20.4" height="14.0" rx="1.5"/>
<line class="k" x1="453.3" y1="544.0" x2="453.3" y2="792.4"/>
<line class="k" x1="462.6" y1="544.0" x2="462.6" y2="792.4"/>
<rect class="kw" x="451.1" y="792.4" width="13.9" height="39.9"/>
<line class="g" x1="391.0" y1="824.3" x2="425.4" y2="824.3"/>
<line class="g" x1="391.0" y1="855.0" x2="425.4" y2="855.0"/>
<rect class="gw" x="425.3" y="824.3" width="10.0" height="31.2" rx="1.5"/>
<rect class="g" x="426.0" y="825.0" width="8.6" height="29.8" rx="1.2"/>
<line class="t" x1="391.4" y1="824.2" x2="391.4" y2="905.0"/>
<polygon class="a" points="391.4,824.4 389.8,834.4 393.0,834.4"/>
<polygon class="a" points="391.4,854.7 389.8,844.7 393.0,844.7"/>
<line class="t" x1="406.7" y1="818.9" x2="406.7" y2="900.0"/>
<polygon class="a" points="406.7,839.3 405.1,829.3 408.3,829.3"/>
<polygon class="a" points="406.7,849.9 405.1,859.9 408.3,859.9"/>
<line class="t" x1="406.7" y1="839.5" x2="412.8" y2="839.5"/>
<line class="t" x1="406.7" y1="849.7" x2="412.8" y2="849.7"/>
<rect class="b" x="412.8" y="839.5" width="9.2" height="10.2"/>
<path class="t" d="M422,841.5 L425,840 M422,844.8 L425,843.3 M422,848 L425,846.5"/>
<text transform="translate(387.3 910.1) rotate(-90)">60X60</text>
<text transform="translate(402.8 902.4) rotate(-90)">G1/2</text>
<path class="mw" d="M435.7,832.2 L437,830.7 H441.6 L442.8,832.2 V846.5 L441.6,848 H437 L435.7,846.5 Z"/>
<path class="m" d="M435.7,834.2 H442.8 M435.7,844.5 H442.8"/>
<rect class="mw" x="443.2" y="833.5" width="3.9" height="11.7"/>
<path class="kw" d="M447.1,834.6 L449.5,832.3 H466.3 L468.7,834.6 V846.4 H447.1 Z"/>
<path class="m" d="M448,835.8 H468 M450.2,835.8 V846.4 M465.6,835.8 V846.4"/>
<line class="h" x1="447.1" y1="847.1" x2="468.7" y2="847.1"/>
<path class="kw" d="M468.6,847.6 H527.7 V850.5 Q527,853.5 523.6,855.8 L523.3,859.4 L512.4,860.4 Q510.5,855.3 505,853.4 H468.6"/>
<path class="m" d="M468.6,850.4 H526.5 M508,850.4 Q512,852 513.5,855.9 L523.5,855.4 M523.5,848 V850.5 Q523,853.5 521.4,855.4 M515.5,858.3 L520.7,857.8"/>
<path class="kw" d="M447.1,847.4 V884.8 L449.5,887.3 H466.3 L468.5,884.8 V847.4"/>
<path class="m" d="M450.2,861.3 V884.5 M466,861.3 V884.5 M450.2,861.3 H466 M447.1,884.8 L450.2,882 L453.5,884.8 L450.2,887.3 M468.5,884.8 L466,882 L462.4,884.8 L466,887.3"/>
<path class="m" d="M448.3,850.5 Q451,851.5 451.4,860.6 M466.4,850.5 Q464,851.5 463.6,860.6 M451.5,850.5 Q454.3,852 454.6,860.6 M463.3,850.5 Q460.8,852 460.5,860.6"/>
<circle class="k" cx="457.5" cy="859.5" r="0.9"/>
<rect class="g" x="452.5" y="862.3" width="11.1" height="1.5"/>
<polygon class="b" points="452.2,864.9 464,864.9 462.8,877.1 453,877.1"/>
<rect class="kw" x="454.6" y="877.1" width="6.4" height="2.3"/>
<line class="t" x1="518.8" y1="860.4" x2="518.8" y2="899.9"/>
<line class="t" x1="458.0" y1="899.1" x2="518.8" y2="899.1"/>
<polygon class="a" points="518.7,899.1 508.7,897.5 508.7,900.7"/>
<polygon class="a" points="458.0,899.1 468.0,897.5 468.0,900.7"/>
<text x="476.6" y="895.1">118</text>
</g>
<g id="hose-side">
<path d="M454.8,879.4 L454.8,882.6 L454.8,885.8 L454.8,889.0 L454.8,892.2 L454.8,895.4 L454.8,898.6 L454.8,901.8 L454.8,905.0 L454.8,908.2 L454.7,911.4 L454.7,914.6 L454.7,917.8 L454.8,921.0 L454.8,924.2 L454.8,927.4 L454.8,930.6 L454.8,933.8 L454.8,937.0 L454.8,940.2 L454.8,943.4 L454.8,946.6 L454.7,949.8 L454.7,953.0 L454.7,956.2 L454.7,959.4 L454.8,962.6 L454.8,965.8 L454.8,969.0 L454.8,972.2 L454.8,975.4 L454.8,978.6 L454.8,981.8 L454.8,985.0 L454.8,988.2 L454.8,991.4 L454.7,994.6 L454.7,997.8 L454.8,1001.0 L454.8,1004.2 M461.0,879.4 L461.0,882.6 L461.0,885.8 L461.0,889.0 L461.0,892.2 L461.0,895.4 L461.0,898.6 L461.0,901.8 L461.0,905.0 L461.0,908.2 L461.0,911.4 L461.0,914.6 L461.0,917.8 L461.0,921.0 L461.0,924.2 L461.0,927.4 L461.0,930.6 L461.0,933.8 L461.0,937.0 L461.0,940.2 L461.0,943.4 L461.0,946.6 L461.0,949.8 L461.0,953.0 L461.0,956.2 L461.0,959.4 L461.0,962.6 L461.0,965.8 L461.0,969.0 L461.0,972.2 L461.0,975.4 L461.0,978.6 L461.0,981.8 L461.0,985.0 L461.0,988.2 L461.0,991.4 L461.0,994.6 L461.0,997.8 L461.0,1001.0 L461.0,1004.2" fill="none" stroke="#1c1c1c" stroke-width="1.30"/>
<path d="M454.9,881.5 L460.9,880.4 M454.9,884.7 L460.9,883.6 M454.9,887.9 L460.9,886.8 M454.9,891.1 L460.9,890.0 M454.9,894.3 L460.9,893.2 M454.9,897.5 L460.9,896.4 M454.9,900.7 L460.9,899.6 M454.9,903.9 L460.9,902.8 M454.9,907.1 L460.9,906.0 M454.9,910.3 L460.9,909.2 M454.9,913.5 L460.9,912.4 M454.9,916.7 L460.9,915.6 M454.9,919.9 L460.9,918.8 M454.9,923.1 L460.9,922.0 M454.9,926.3 L460.9,925.2 M454.9,929.5 L460.9,928.4 M454.9,932.7 L460.9,931.6 M454.9,935.9 L460.9,934.8 M454.9,939.1 L460.9,938.0 M454.9,942.3 L460.9,941.2 M454.9,945.5 L460.9,944.4 M454.9,948.7 L460.9,947.6 M454.9,951.9 L460.9,950.8 M454.9,955.1 L460.9,954.0 M454.9,958.3 L460.9,957.2 M454.9,961.5 L460.9,960.4 M454.9,964.7 L460.9,963.6 M454.9,967.9 L460.9,966.8 M454.9,971.1 L460.9,970.0 M454.9,974.3 L460.9,973.2 M454.9,977.5 L460.9,976.4 M454.9,980.7 L460.9,979.6 M454.9,983.9 L460.9,982.8 M454.9,987.1 L460.9,986.0 M454.9,990.3 L460.9,989.2 M454.9,993.5 L460.9,992.4 M454.9,996.7 L460.9,995.6 M454.9,999.9 L460.9,998.8 M454.9,1003.1 L460.9,1002.0 M454.9,1006.3 L460.9,1005.2" fill="none" stroke="#1c1c1c" stroke-width="1.35"/>
<path d="M454.1,1004.8 v2.2 a3.8,3.8 0 0 0 7.6,0 v-2.2 z" fill="#1c1c1c"/>
</g>
</svg></body></html>
